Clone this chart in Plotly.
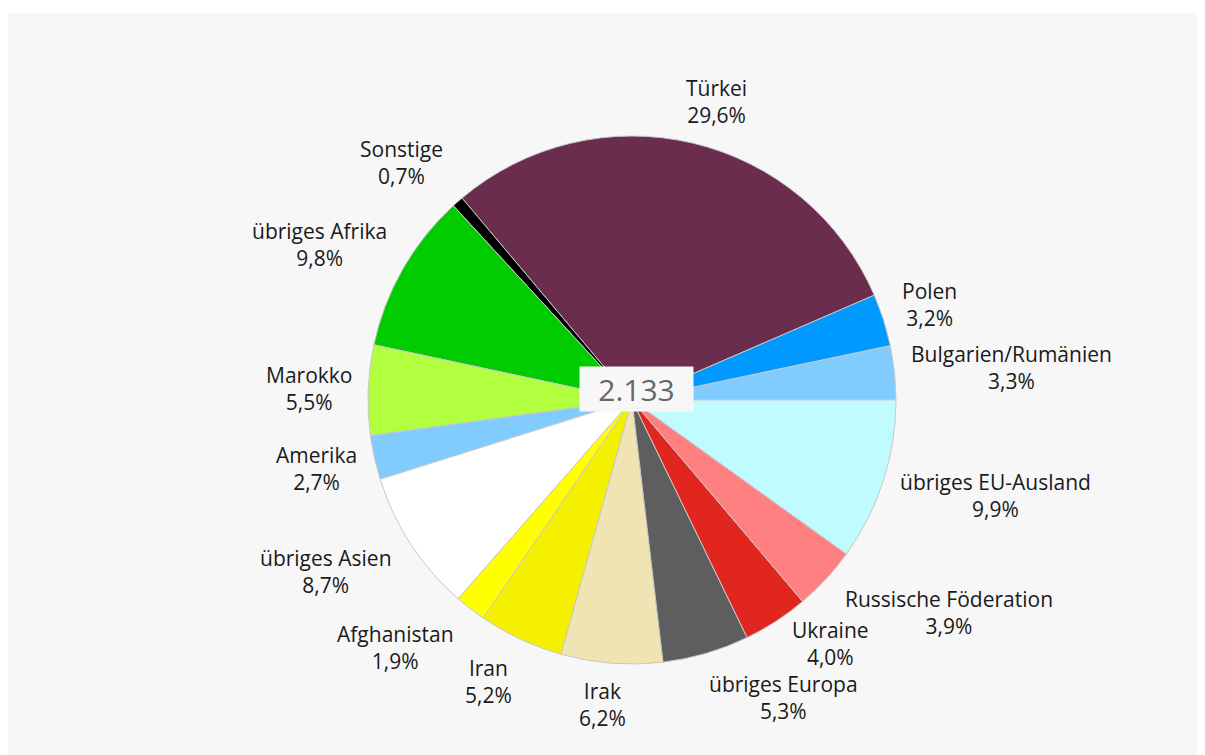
import math
import plotly.graph_objects as go

labels = [
    "Bulgarien/Rumänien", "Polen", "Türkei", "Sonstige", "übriges Afrika",
    "Marokko", "Amerika", "übriges Asien", "Afghanistan", "Iran", "Irak",
    "übriges Europa", "Ukraine", "Russische Föderation", "übriges EU-Ausland",
]
shares = [3.3, 3.2, 29.6, 0.7, 9.8, 5.5, 2.7, 8.7, 1.9, 5.2, 6.2, 5.3, 4.0, 3.9, 9.9]
colors = [
    "#80ccff", "#0099ff", "#6a2d4d", "#000000", "#00cc00",
    "#b2ff40", "#80ccff", "#ffffff", "#ffff00", "#f5f000", "#f1e4b3",
    "#5e5e5e", "#e0261f", "#ff8080", "#c0fbff",
]
total = 2133

# layout (pixels)
W, H = 1197, 747
R = 264                      # pie radius
M = dict(l=92, r=41, t=128, b=91)
LABEL_GAP = 22               # gap between pie and label box
FONT = 21
# labels that were pushed aside to avoid overlaps
nudge = {"Ukraine": (22, -19), "übriges Europa": (50, -3),
         "Russische Föderation": (29, 0), "Afghanistan": (-26, 0),
         "Türkei": (12, 6), "Sonstige": (-14, -2), "Iran": (-14, -3),
         "übriges Asien": (-9, 0), "Irak": (-6, -8)}

tot = sum(shares)
# plotly lays the first slice counterclockwise *up to* the rotation angle,
# so turn back by its size to make it start at 3 o'clock
rotation = 90 - shares[0] / tot * 360

fig = go.Figure(go.Pie(
    labels=labels,
    values=shares,
    sort=False,
    direction="counterclockwise",
    rotation=rotation,
    marker=dict(colors=colors, line=dict(color="#c8c8c8", width=1)),
    textinfo="none",
    automargin=False,
    showlegend=False,
    hoverinfo="label+value",
))

# outside labels, placed from each slice's middle angle
cum = 0.0
for lab, v in zip(labels, shares):
    mid = (cum + v / 2) / tot * 2 * math.pi
    cum += v
    c, s = math.cos(mid), math.sin(mid)
    w = 10.6 * len(lab)
    h = 2 * 1.3 * FONT
    dx = (R + LABEL_GAP) * c + w / 2 * c
    dy = (R + LABEL_GAP) * s + h / 2 * s
    ndx, ndy = nudge.get(lab, (0, 0))
    pct = f"{v:.1f}".replace(".", ",")
    fig.add_annotation(
        x=0.5, y=0.5, xref="paper", yref="paper",
        xshift=dx + ndx, yshift=dy - ndy,
        text=f"{lab}<br>{pct}%", showarrow=False,
        xanchor="center", yanchor="middle", align="center",
        font=dict(size=FONT, color="#1a1a1a"),
    )

fig.add_annotation(
    x=0.5, y=0.5, xref="paper", yref="paper", xshift=4.5, yshift=11,
    text=f"{total:,}".replace(",", "."),
    showarrow=False, font=dict(size=30, color="#666666"),
    bgcolor="#f7f7f7", width=113, height=44, borderpad=0,
)

ph = H - M["t"] - M["b"]
# thin white strip at the top of the page
fig.add_shape(
    type="rect", xref="paper", yref="paper",
    x0=-1, x1=2, y0=(ph + M["t"] - 5) / ph, y1=2,
    fillcolor="white", line_width=0, layer="below",
)

fig.update_layout(
    width=W, height=H,
    margin=dict(**M, autoexpand=False),
    paper_bgcolor="#f7f7f7",
    plot_bgcolor="#f7f7f7",
    font=dict(family="Open Sans", size=FONT, color="#1a1a1a"),
)

fig.write_html("out.html")
